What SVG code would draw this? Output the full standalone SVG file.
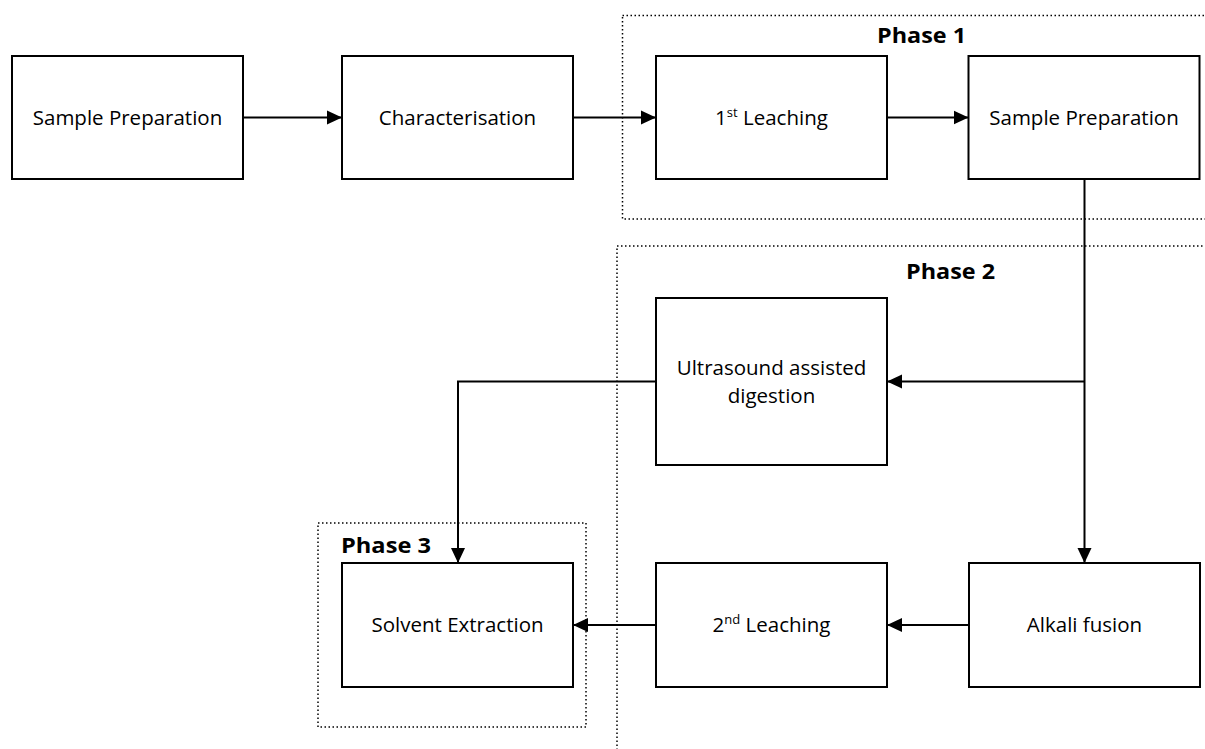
<svg xmlns="http://www.w3.org/2000/svg" width="1205" height="749" viewBox="0 0 1205 749">
<defs>
<marker id="ah" markerUnits="userSpaceOnUse" markerWidth="15" markerHeight="15" viewBox="0 0 15 15" refX="15" refY="7.5" orient="auto">
<path d="M0,0.5 L15,7.5 L0,14.5 Z" fill="#000"/>
</marker>
<style>
.box{fill:#fff;stroke:#000;stroke-width:2}
.lbl{font-family:"Open Sans","Liberation Sans",sans-serif;font-size:20.5px;fill:#000;text-anchor:middle}
.sup{font-size:13px}
.phase{fill:none;stroke:#000;stroke-width:1.5;stroke-dasharray:1.5 2.5}
.ph{font-family:"Open Sans","Liberation Sans",sans-serif;font-size:22px;font-weight:bold;fill:#000}
.con{fill:none;stroke:#000;stroke-width:2}
</style>
</defs>
<rect width="1205" height="749" fill="#fff"/>
<g id="phase1">
<rect class="phase" x="622.5" y="15.5" width="700" height="203.5"/>
<text class="ph" x="877" y="43" textLength="89" lengthAdjust="spacingAndGlyphs">Phase 1</text>
</g>
<g id="phase2">
<rect class="phase" x="617" y="246" width="700" height="600"/>
<text class="ph" x="906" y="279" textLength="89" lengthAdjust="spacingAndGlyphs">Phase 2</text>
</g>
<g id="phase3">
<rect class="phase" x="318" y="523" width="268" height="204"/>
<text class="ph" x="341" y="553" textLength="90" lengthAdjust="spacingAndGlyphs">Phase 3</text>
</g>
<g id="connectors">
<line class="con" x1="243" y1="117.5" x2="342" y2="117.5" marker-end="url(#ah)"/>
<line class="con" x1="573" y1="117.5" x2="656" y2="117.5" marker-end="url(#ah)"/>
<line class="con" x1="887" y1="117.5" x2="968.5" y2="117.5" marker-end="url(#ah)"/>
<line class="con" x1="1084.5" y1="179" x2="1084.5" y2="563" marker-end="url(#ah)"/>
<line class="con" x1="1084.5" y1="381.5" x2="887" y2="381.5" marker-end="url(#ah)"/>
<polyline class="con" points="656,381.5 458,381.5 458,563" marker-end="url(#ah)"/>
<line class="con" x1="969" y1="625" x2="887" y2="625" marker-end="url(#ah)"/>
<line class="con" x1="656" y1="625" x2="573" y2="625" marker-end="url(#ah)"/>
</g>
<g id="sample-preparation-1">
<rect class="box" x="12" y="56" width="231" height="123"/>
<text class="lbl" x="127.5" y="125">Sample Preparation</text>
</g>
<g id="characterisation">
<rect class="box" x="342" y="56" width="231" height="123"/>
<text class="lbl" x="457.5" y="125">Characterisation</text>
</g>
<g id="first-leaching">
<rect class="box" x="656" y="56" width="231" height="123"/>
<text class="lbl" x="771.5" y="125">1<tspan class="sup" dy="-8">st</tspan><tspan dy="8"> Leaching</tspan></text>
</g>
<g id="sample-preparation-2">
<rect class="box" x="968.5" y="56" width="231" height="123"/>
<text class="lbl" x="1084" y="125">Sample Preparation</text>
</g>
<g id="ultrasound">
<rect class="box" x="656" y="298" width="231" height="167"/>
<text class="lbl" x="771.5" y="375">Ultrasound assisted</text>
<text class="lbl" x="771.5" y="403">digestion</text>
</g>
<g id="solvent-extraction">
<rect class="box" x="342" y="563" width="231" height="124"/>
<text class="lbl" x="457.5" y="632">Solvent Extraction</text>
</g>
<g id="second-leaching">
<rect class="box" x="656" y="563" width="231" height="124"/>
<text class="lbl" x="771.5" y="632">2<tspan class="sup" dy="-8">nd</tspan><tspan dy="8"> Leaching</tspan></text>
</g>
<g id="alkali-fusion">
<rect class="box" x="969" y="563" width="231" height="124"/>
<text class="lbl" x="1084.5" y="632">Alkali fusion</text>
</g>
</svg>
